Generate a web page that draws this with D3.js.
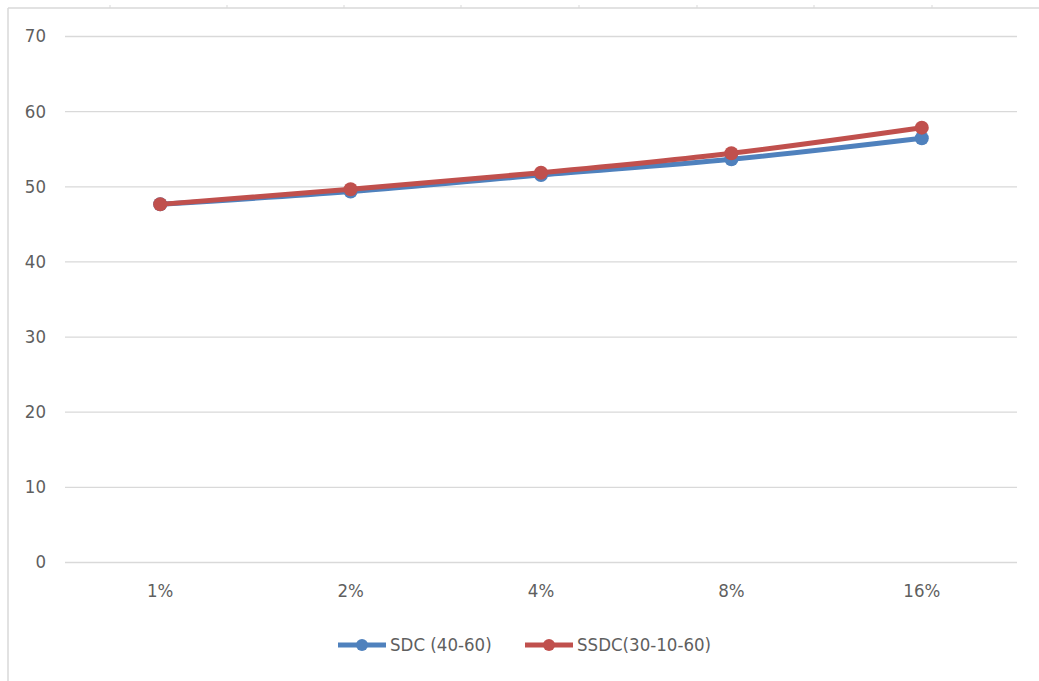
<!DOCTYPE html>
<html>
<head>
<meta charset="utf-8">
<script src="https://cdn.jsdelivr.net/npm/d3@7"></script>
<style>
  html, body { margin: 0; padding: 0; background: #ffffff; }
  svg { display: block; }
  text { font-family: "Liberation Sans Narrow", "DejaVu Sans Condensed", "Liberation Sans", sans-serif; fill: #5f5f5f; }
</style>
</head>
<body>
<svg id="chart" width="1039" height="681"></svg>
<script>
// Categories (x axis) and series values
const categories = ["1%", "2%", "4%", "8%", "16%"];
const sdcValues  = [47.6, 49.3, 51.5, 53.6, 56.4];
const ssdcValues = [47.6, 49.6, 51.8, 54.4, 57.8];
const yTicks = [0, 10, 20, 30, 40, 50, 60, 70];
const seriesNames = ["SDC (40-60)", "SSDC(30-10-60)"];
const seriesColors = ["#4F81BD", "#C0504D"];

const series = [
  { name: seriesNames[0], color: seriesColors[0], values: sdcValues },
  { name: seriesNames[1], color: seriesColors[1], values: ssdcValues }
];

const svg = d3.select("#chart");
const W = 1039, H = 681;
const FONT = 18.5;

// frame of the chart area
const frame = svg.append("g");
frame.append("line").attr("x1", 8).attr("x2", W).attr("y1", 8).attr("y2", 8)
  .attr("stroke", "#d9d9d9").attr("stroke-width", 1.5);
frame.append("line").attr("x1", 8).attr("x2", 8).attr("y1", 8).attr("y2", H)
  .attr("stroke", "#d9d9d9").attr("stroke-width", 1.5);
[110, 227, 344, 461, 579, 697, 814, 932].forEach(x => {
  frame.append("line").attr("x1", x).attr("x2", x).attr("y1", 5).attr("y2", 8)
    .attr("stroke", "#d9d9d9").attr("stroke-width", 1);
});

const plot = { left: 65, right: 1017, top: 36, bottom: 562 };

const x = d3.scaleBand().domain(categories).range([plot.left, plot.right]);
const y = d3.scaleLinear().domain([0, 70]).range([plot.bottom, plot.top]);

// gridlines
const yAxis = d3.axisLeft(y).tickValues(yTicks).tickSize(-(plot.right - plot.left)).tickPadding(19);
const gy = svg.append("g").attr("transform", `translate(${plot.left},0)`).call(yAxis);
gy.select(".domain").remove();
gy.selectAll(".tick line").attr("stroke", "#d9d9d9").attr("stroke-width", 1.3);
gy.selectAll(".tick text").attr("font-size", FONT).style("fill", "#5f5f5f");

// x axis labels
const xAxis = d3.axisBottom(x).tickSize(0).tickPadding(22);
const gx = svg.append("g").attr("transform", `translate(0,${plot.bottom})`).call(xAxis);
gx.select(".domain").remove();
gx.selectAll(".tick text").attr("font-size", FONT).style("fill", "#5f5f5f");

const cx = c => x(c) + x.bandwidth() / 2;
const line = d3.line().x((d, i) => cx(categories[i])).y(d => y(d)).curve(d3.curveMonotoneX);

series.forEach(s => {
  const g = svg.append("g");
  g.append("path").datum(s.values)
    .attr("d", line)
    .attr("fill", "none")
    .attr("stroke", s.color)
    .attr("stroke-width", 5)
    .attr("stroke-linejoin", "round")
    .attr("stroke-linecap", "round");
  g.selectAll("circle").data(s.values).join("circle")
    .attr("cx", (d, i) => cx(categories[i]))
    .attr("cy", d => y(d))
    .attr("r", 7)
    .attr("fill", s.color);
});

// legend
const legendY = 645;
const legendItems = [
  { x0: 338, tx: 390 },
  { x0: 525, tx: 577 }
];
series.forEach((s, i) => {
  const li = legendItems[i];
  const g = svg.append("g");
  g.append("line").attr("x1", li.x0).attr("x2", li.x0 + 48)
    .attr("y1", legendY).attr("y2", legendY)
    .attr("stroke", s.color).attr("stroke-width", 5);
  g.append("circle").attr("cx", li.x0 + 24).attr("cy", legendY).attr("r", 6).attr("fill", s.color);
  g.append("text").attr("x", li.tx).attr("y", legendY).attr("dy", "0.35em")
    .attr("font-size", FONT).text(s.name);
});
</script>
</body>
</html>
